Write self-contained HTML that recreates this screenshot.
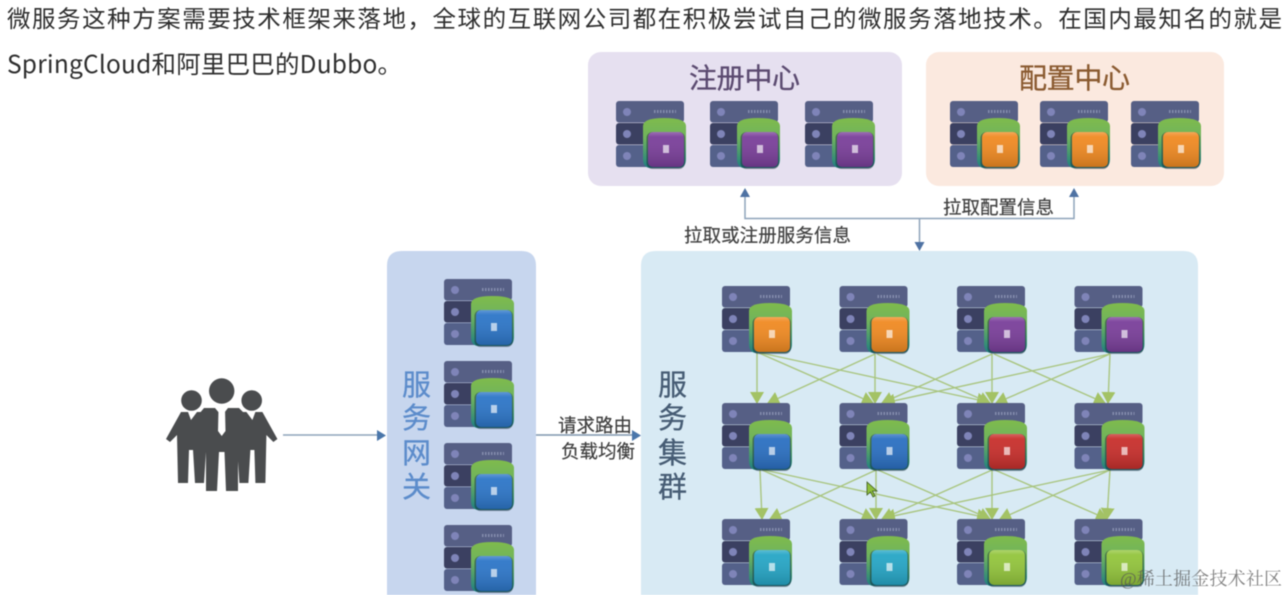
<!DOCTYPE html>
<html lang="zh"><head><meta charset="utf-8"><style>
html,body{margin:0;padding:0;background:#fff;width:1287px;height:595px;overflow:hidden}
svg{display:block;filter:blur(.45px)}
text{font-family:"Liberation Sans","Noto Sans CJK SC",sans-serif}
.n{font-family:"Noto Sans CJK SC","Liberation Sans",sans-serif}
.g{stroke:#a9c57f;stroke-width:1.4;fill:none;marker-end:url(#ga)}
.b{stroke:#8ea3ba;stroke-width:1.5;fill:none}
.lab{font-size:18.5px;fill:#3f3f3f;stroke:#3f3f3f;stroke-width:.2}
.v{font-size:29px;text-anchor:middle;stroke-width:.3}
</style></head><body>
<svg width="1287" height="595" viewBox="0 0 1287 595" xmlns="http://www.w3.org/2000/svg">
<defs>
<linearGradient id="gr" x1="0" y1="0" x2="0" y2="1"><stop offset="0" stop-color="#7fbb4c"/><stop offset=".4" stop-color="#6fb35e"/><stop offset="1" stop-color="#1f7f80"/></linearGradient>
<linearGradient id="sh" x1="0" y1="0" x2="0" y2="1"><stop offset="0" stop-color="#fff" stop-opacity=".25"/><stop offset=".14" stop-color="#fff" stop-opacity=".05"/><stop offset="1" stop-color="#000" stop-opacity=".16"/></linearGradient>
<marker id="ga" viewBox="0 0 12 14" refX="11" refY="7" markerWidth="12" markerHeight="14" markerUnits="userSpaceOnUse" orient="auto"><path d="M0 0L12 7L0 14Z" fill="#a3c265"/></marker>
<symbol id="s" viewBox="0 0 72 70" width="72" height="70" overflow="visible">
<rect x="0" y="0" width="68" height="21.5" rx="3" fill="#565f85"/>
<rect x="0" y="22" width="68" height="21.5" rx="3" fill="#3b4061"/>
<rect x="0" y="44" width="68" height="22" rx="3" fill="#54618a"/>
<circle cx="11" cy="11" r="4" fill="#7f84b8"/><circle cx="11" cy="33" r="4" fill="#7f84b8"/><circle cx="11" cy="55" r="4" fill="#7f84b8"/>
<path d="M38 10.500H60" stroke="#9aa2c0" stroke-width="3" stroke-dasharray="1.500 1.500" opacity=".7"/>
<path d="M27 58V25Q27 17 48 17Q70 17 70 25V58Q70 67 62 67H35Q27 67 27 58Z" fill="url(#gr)"/>
<rect x="30.500" y="31" width="38.500" height="37" rx="6" fill="#123" opacity=".45"/>
<rect x="32" y="31" width="36" height="35" rx="5" fill="currentColor"/>
<rect x="32" y="31" width="36" height="35" rx="5" fill="url(#sh)"/>
<rect x="47" y="44" width="6" height="8" fill="#fff" opacity=".65"/>
</symbol>
</defs>

<text class="n" x="7" y="27" font-size="23.500" fill="#2e2e2e" textLength="1275" lengthAdjust="spacing">微服务这种方案需要技术框架来落地，全球的互联网公司都在积极尝试自己的微服务落地技术。在国内最知名的就是</text>
<text class="n" x="7" y="73" font-size="24.500" fill="#2e2e2e" textLength="395" lengthAdjust="spacing">SpringCloud和阿里巴巴的Dubbo。</text>

<rect x="588" y="52" width="314" height="134" rx="13" fill="#e6e0f0"/>
<rect x="926" y="52" width="298" height="134" rx="13" fill="#fbe9df"/>
<path d="M387 595V266Q387 251 402 251H521Q536 251 536 266V595Z" fill="#c7d6ee"/>
<path d="M641 595V266Q641 251 656 251H1183Q1198 251 1198 266V595Z" fill="#d8eaf4"/>

<text x="689" y="88" font-size="28" fill="#5b4a70" stroke="#5b4a70" stroke-width=".3" textLength="111">注册中心</text>
<text x="1019" y="88" font-size="28" fill="#8a5a30" stroke="#8a5a30" stroke-width=".3" textLength="111">配置中心</text>

<g style="color:#7a3f9a"><use href="#s" x="616" y="101"/><use href="#s" x="710" y="101"/><use href="#s" x="805" y="101"/></g>
<g style="color:#f08a22"><use href="#s" x="950" y="101"/><use href="#s" x="1040" y="101"/><use href="#s" x="1131" y="101"/></g>

<path class="b" d="M745 196V218.500H1074V196M919.500 218.500V243"/>
<path d="M740 197L745 188L750 197Z M1069 197L1074 188L1079 197Z M914.500 242L919.500 251L924.500 242Z" fill="#4f72a3"/>
<text class="lab" x="943" y="214" textLength="111">拉取配置信息</text>
<text class="lab" x="684" y="242" textLength="167">拉取或注册服务信息</text>

<g style="color:#2d76c8"><use href="#s" x="444" y="279"/><use href="#s" x="444" y="361"/><use href="#s" x="444" y="443"/><use href="#s" x="444" y="525"/></g>

<g fill="#5c8ccb" stroke="#5c8ccb">
<text class="v" x="416.500" y="395">服</text><text class="v" x="416.500" y="428">务</text><text class="v" x="416.500" y="463">网</text><text class="v" x="416.500" y="497">关</text>
</g>
<g fill="#465c74" stroke="#465c74">
<text class="v" x="672.500" y="395">服</text><text class="v" x="672.500" y="428">务</text><text class="v" x="672.500" y="463">集</text><text class="v" x="672.500" y="497">群</text>
</g>

<g>
<path class="g" d="M757 353V403"/><path class="g" d="M759 353L873 403"/><path class="g" d="M761 353L988 402"/>
<path class="g" d="M875 354L768 403"/><path class="g" d="M875 354V403"/><path class="g" d="M877 354L990 403"/>
<path class="g" d="M992 354L882 403"/><path class="g" d="M992 354V403"/><path class="g" d="M994 354L1105 403"/>
<path class="g" d="M1110 354L884 403"/><path class="g" d="M1110 354L996 403"/><path class="g" d="M1110 354L1108 403"/>
<path class="g" d="M760 470L762 519"/><path class="g" d="M762 470L873 519"/><path class="g" d="M764 470L988 518"/>
<path class="g" d="M876 470L770 519"/><path class="g" d="M876 470V519"/><path class="g" d="M878 470L990 519"/>
<path class="g" d="M992 470L882 519"/><path class="g" d="M992 470V519"/><path class="g" d="M995 470L1107 519"/>
<path class="g" d="M1110 470L884 518"/><path class="g" d="M1110 470L1000 519"/><path class="g" d="M1110 470L1107 519"/>
</g>

<g style="color:#f08a22"><use href="#s" x="722" y="286"/><use href="#s" x="839.500" y="286"/></g>
<g style="color:#7a3f9a"><use href="#s" x="957" y="286"/><use href="#s" x="1074.500" y="286"/></g>
<g style="color:#2b70c2"><use href="#s" x="722" y="403"/><use href="#s" x="839.500" y="403"/></g>
<g style="color:#c82f2c"><use href="#s" x="957" y="403"/><use href="#s" x="1074.500" y="403"/></g>
<g style="color:#26a6c6"><use href="#s" x="722" y="519"/><use href="#s" x="839.500" y="519"/></g>
<g style="color:#93c53c"><use href="#s" x="957" y="519"/><use href="#s" x="1074.500" y="519"/></g>

<path d="M867 482L867 495L870.500 492L873 497L875 496L872.500 491L877 491Z" fill="#8fbf3c" stroke="#3d5a20" stroke-width=".8"/>

<g fill="#4a4c4e">
<circle cx="221.700" cy="391" r="12.700"/><circle cx="191.500" cy="400.500" r="10.300"/><circle cx="251.700" cy="400.500" r="10.300"/>
<path d="M181 412H188L191 420L197 412H206V452L204 483H195L193 450H189L188 483H178L177 435L170 442L166 439Z"/>
<path d="M262.400 412H255.400L252.400 420L246.400 412H237.400V452L239.400 483H248.400L250.400 450H254.400L255.400 483H265.400L266.400 435L273.400 442L277.400 439Z"/>
<path d="M204 408H215L221.700 416L228 408H239L245 414V445L238 449V491H226L224.500 452H219L217 491H206V449L199 445V414Z"/>
</g>
<path d="M218.500 409H225L225.500 431L221.700 436L218 431Z" fill="#fff"/>

<path d="M283 435H378" stroke="#8ea3ba" stroke-width="1.500"/><path d="M377 430L386 435.500L377 441Z" fill="#4a76aa"/>
<path d="M536 435H633" stroke="#7f96ae" stroke-width="1.500"/><path d="M632 430L641 435.500L632 441Z" fill="#4a76aa"/>
<text class="lab" x="558" y="432" textLength="74">请求路由</text>
<text class="lab" x="561" y="458" textLength="74">负载均衡</text>

<text x="1120" y="585" font-size="18" fill="#555" fill-opacity=".75" style="font-family:'Liberation Serif','Noto Serif CJK SC',serif" textLength="162">@稀土掘金技术社区</text>
</svg>
</body></html>
